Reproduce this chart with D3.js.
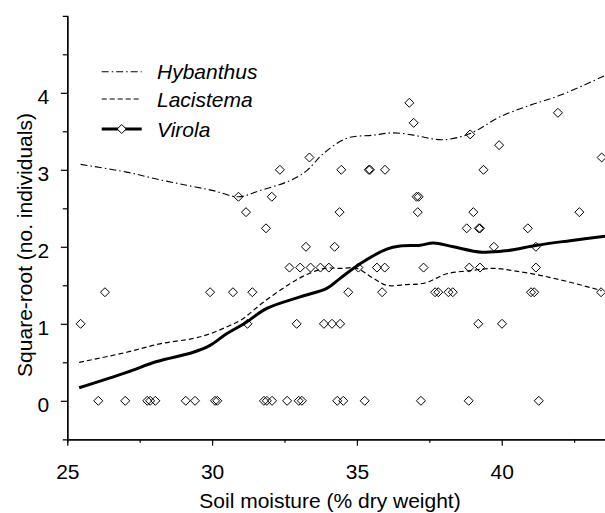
<!doctype html>
<html lang="en">
<head>
<meta charset="utf-8">
<title>Seedling abundance vs soil moisture</title>
<style>
  body { margin: 0; background: #fff; }
  svg text { font-family: "Liberation Sans", Arial, Helvetica, sans-serif; fill: #000; }
</style>
<script src="https://d3js.org/d3.v7.min.js"></script>
</head>
<body>
<div id="chart"></div>
<script>
// Virola plots: soil moisture and sqrt(number of individuals)
var moistX = [26.07, 27.00, 27.76, 27.86, 28.04, 29.09, 29.41, 30.10, 30.18, 31.79, 31.89, 32.07, 32.59, 32.99, 33.10, 34.32, 34.53, 35.27, 37.21, 38.86, 41.28,
              25.46, 31.22, 32.92, 33.86, 34.14, 34.42, 39.19, 40.01,
              26.30, 29.93, 30.72, 31.39, 34.70, 35.87, 37.70, 37.81, 38.16, 38.31, 41.01, 41.12, 43.43,
              32.67, 33.04, 33.40, 33.74, 34.03, 35.05, 35.69, 35.96, 37.30, 38.88, 39.25, 41.18,
              33.24, 34.23, 39.73, 41.18,
              31.86, 38.79, 39.21, 39.25, 40.90,
              31.17, 34.40, 37.10, 39.02, 42.68,
              30.91, 32.06, 37.06, 37.13,
              32.34, 34.46, 35.41, 35.45, 35.97, 39.37,
              33.36, 43.45,
              39.91, 38.91, 36.96, 41.94, 36.81];
var sqrtN = [0, 0, 0, 0, 0, 0, 0, 0, 0, 0, 0, 0, 0, 0, 0, 0, 0, 0, 0, 0, 0,
             1, 1, 1, 1, 1, 1, 1, 1,
             1.41, 1.41, 1.41, 1.41, 1.41, 1.41, 1.41, 1.41, 1.41, 1.41, 1.41, 1.41, 1.41,
             1.73, 1.73, 1.73, 1.73, 1.73, 1.73, 1.73, 1.73, 1.73, 1.73, 1.73, 1.73,
             2, 2, 2, 2,
             2.24, 2.24, 2.24, 2.24, 2.24,
             2.45, 2.45, 2.45, 2.45, 2.45,
             2.65, 2.65, 2.65, 2.65,
             3, 3, 3, 3, 3, 3,
             3.16, 3.16,
             3.32, 3.46, 3.61, 3.74, 3.87];

// smoothed curves
var hybX = [25.46, 27.05, 28.2, 29.12, 30.04, 30.91, 31.65, 32.69, 33.27, 33.84, 34.65, 35.57, 36.26, 36.95, 37.35, 37.99, 38.91, 39.95, 40.99, 42.03, 43.6];
var hybY = [3.07, 2.97, 2.87, 2.80, 2.73, 2.65, 2.73, 2.86, 2.99, 3.21, 3.41, 3.45, 3.48, 3.45, 3.42, 3.39, 3.47, 3.69, 3.84, 3.97, 4.23];
var lacX = [25.41, 27.05, 28.2, 29.35, 29.93, 30.5, 31.0, 31.77, 32.69, 33.27, 33.9, 34.42, 34.99, 35.57, 36.03, 36.72, 37.35, 38.1, 38.91, 39.71, 40.4, 41.32, 42.36, 43.45];
var lacY = [0.50, 0.63, 0.74, 0.81, 0.87, 0.96, 1.05, 1.28, 1.52, 1.64, 1.72, 1.72, 1.72, 1.59, 1.50, 1.51, 1.53, 1.65, 1.69, 1.72, 1.69, 1.63, 1.54, 1.43];
var virX = [25.41, 27.05, 28.09, 29.35, 29.93, 30.5, 31.1, 31.89, 33.04, 33.96, 34.42, 35.11, 36.03, 36.49, 37.18, 37.64, 38.33, 39.31, 40.17, 41.21, 42.36, 43.6];
var virY = [0.17, 0.37, 0.51, 0.63, 0.72, 0.87, 1.0, 1.2, 1.35, 1.46, 1.59, 1.78, 1.97, 2.01, 2.02, 2.05, 2.0, 1.93, 1.95, 2.02, 2.08, 2.14];

var speciesNames = ["Hybanthus", "Lacistema", "Virola"];
var xMajor = [25, 30, 35, 40];
var xMinor = [27.5, 32.5, 37.5, 42.5];
var yMajor = [0, 1, 2, 3, 4];
var yMinor = [0.5, 1.5, 2.5, 3.5, 4.5];

var W = 605, H = 513;
var svg = d3.select("#chart").append("svg")
  .attr("width", W)
  .attr("height", H);

var x = d3.scaleLinear().domain([25, 43.6]).range([67.3, 606]);
var y = d3.scaleLinear().domain([-0.5, 5]).range([439.3, 15.8]);

// axes
var xAxisMinor = svg.append("g")
  .attr("transform", "translate(0," + y(-0.5) + ")")
  .call(d3.axisBottom(x).tickValues(xMinor).tickSize(3.5).tickFormat(""));
var xAxis = svg.append("g")
  .attr("transform", "translate(0," + y(-0.5) + ")")
  .call(d3.axisBottom(x).tickValues(xMajor).tickSize(6.5).tickSizeOuter(0).tickPadding(18.3).tickFormat(d3.format("d")));
var yAxisMinor = svg.append("g")
  .attr("transform", "translate(" + x(25) + ",0)")
  .call(d3.axisLeft(y).tickValues(yMinor).tickSize(4.5).tickFormat(""));
var yAxis = svg.append("g")
  .attr("transform", "translate(" + x(25) + ",0)")
  .call(d3.axisLeft(y).tickValues(yMajor).tickSize(6.5).tickSizeOuter(0).tickPadding(11.5).tickFormat(d3.format("d")));

svg.selectAll(".domain").attr("stroke", "#000").attr("stroke-width", 1.3);
svg.selectAll(".tick line").attr("stroke", "#000").attr("stroke-width", 1.2);
svg.selectAll(".tick text").attr("font-size", "21px").attr("font-family", "Liberation Sans, Arial, sans-serif");
yAxis.selectAll(".tick text").attr("dy", "0.52em");

// axis titles
svg.append("text")
  .attr("x", 330)
  .attr("y", 508)
  .attr("text-anchor", "middle")
  .attr("font-size", "21px")
  .text("Soil moisture (% dry weight)");

svg.append("text")
  .attr("transform", "translate(32,245) rotate(-90)")
  .attr("text-anchor", "middle")
  .attr("font-size", "21px")
  .text("Square-root (no. individuals)");

// lines
var line = d3.line()
  .x(function(d) { return x(d[0]); })
  .y(function(d) { return y(d[1]); })
  .curve(d3.curveCatmullRom);

var plot = svg.append("g");

plot.append("path")
  .attr("d", line(d3.zip(hybX, hybY)))
  .attr("fill", "none")
  .attr("stroke", "#000")
  .attr("stroke-width", 1.1)
  .attr("stroke-dasharray", "7,3,1.5,3");

plot.append("path")
  .attr("d", line(d3.zip(lacX, lacY)))
  .attr("fill", "none")
  .attr("stroke", "#000")
  .attr("stroke-width", 1.2)
  .attr("stroke-dasharray", "5,3");

plot.append("path")
  .attr("d", line(d3.zip(virX, virY)))
  .attr("fill", "none")
  .attr("stroke", "#000")
  .attr("stroke-width", 3);

// scatter diamonds
var diamond = "M0,-4.5L4.5,0L0,4.5L-4.5,0Z";
plot.selectAll(".pt")
  .data(d3.zip(moistX, sqrtN))
  .enter().append("path")
  .attr("class", "pt")
  .attr("d", diamond)
  .attr("transform", function(d) { return "translate(" + x(d[0]) + "," + y(d[1]) + ")"; })
  .attr("fill", "none")
  .attr("stroke", "#000")
  .attr("stroke-width", 1);

// legend
var legend = svg.append("g");
var legY = [71.7, 99, 129];
var legDash = ["7,3,1.5,3", "5,3", null];
var legW = [1.1, 1.2, 3];
speciesNames.forEach(function(name, i) {
  var l = legend.append("line")
    .attr("x1", 101.7).attr("x2", 141.7)
    .attr("y1", legY[i]).attr("y2", legY[i])
    .attr("stroke", "#000")
    .attr("stroke-width", legW[i]);
  if (legDash[i]) l.attr("stroke-dasharray", legDash[i]);
  legend.append("text")
    .attr("x", 157)
    .attr("y", legY[i] + 7.5)
    .attr("font-size", "21px")
    .attr("font-style", "italic")
    .text(name);
});
legend.append("path")
  .attr("d", diamond)
  .attr("transform", "translate(121.7," + legY[2] + ")")
  .attr("fill", "#fff")
  .attr("stroke", "#000")
  .attr("stroke-width", 1);
</script>
</body>
</html>
